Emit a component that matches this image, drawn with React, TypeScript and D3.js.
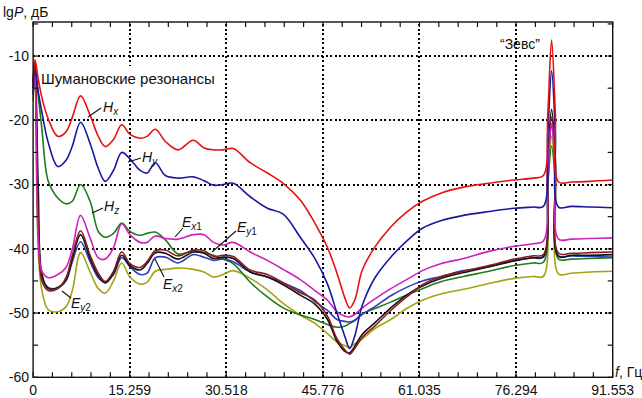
import * as d3 from 'd3'

// frequency grid, Hz
const freqs = [
  0, 0.3, 0.8, 1.4, 2.4, 3.9, 5.2, 6.2, 7.5, 9.0, 10.3, 11.4, 12.7, 14.0, 15.3, 16.9, 18.0, 19.3, 20.9, 22.9,
  25.3, 27.0, 28.5, 30.0, 31.6, 34.3, 37.0, 39.5, 42.2, 44.5, 46.5, 48.0, 49.3, 50.0, 50.8, 52.0, 54.0, 56.5,
  59.0, 61.5, 64.5, 68.0, 72.0, 76.0, 79.0, 80.6, 81.3, 81.9, 82.5, 83.0, 85.0, 88.0, 91.55,
]

const hx = [
  -14, -10.6, -13.5, -16.5, -19.8, -22.5, -21.8, -19.5, -16.2, -19.2, -22.5, -24.1, -23.0, -20.7, -22.2, -22.8,
  -22.5, -21.4, -23.3, -24.6, -23.1, -24.3, -24.6, -24.6, -24.4, -26.6, -28.2, -29.8, -32.4, -36.0, -39.8, -43.8,
  -47.8, -49.2, -48.0, -43.3, -39.7, -36.6, -34.3, -32.6, -31.3, -30.4, -29.8, -29.3, -29.0, -28.6, -19, -7.5,
  -19, -29.6, -29.6, -29.5, -29.3,
]
const hy = [
  -15, -12.2, -15.5, -18.8, -23.5, -27.2, -26.2, -24.0, -20.3, -23.6, -27.5, -29.5, -27.8, -25.0, -26.0, -27.8,
  -28.2, -26.6, -28.6, -29.0, -28.8, -29.4, -30.1, -30.0, -29.8, -31.9, -33.7, -34.6, -38.2, -41.5, -45.5, -50.0,
  -53.8, -55.5, -53.6, -48.8, -44.5, -41.3, -38.8, -36.8, -35.6, -34.8, -34.2, -33.7, -33.5, -33.4, -22, -12.3,
  -22, -33.5, -33.4, -33.5, -33.6,
]
const hz = [
  -14, -11.5, -16, -21.5, -29.5, -32.1, -33.0, -32.6, -30.0, -32.6, -37.3, -38.2, -37.6, -36.0, -37.3, -37.9,
  -37.6, -37.4, -38.6, -40.8, -40.3, -40.6, -41.0, -41.6, -42.3, -45.2, -47.5, -49.2, -50.3, -51.0, -51.8, -52.2,
  -52.0, -51.6, -51.2, -50.1, -49.3, -48.3, -47.2, -46.2, -45.1, -44.3, -43.5, -42.6, -42.2, -42.1, -30, -24,
  -30, -41.6, -41.6, -41.5, -41.4,
]
const ex1 = [
  -16, -12.5, -38, -43.5, -44.5, -44.0, -42.9, -40.0, -34.8, -38.3, -41.4, -41.6, -39.8, -36.1, -37.8, -39.0,
  -39.0, -38.0, -38.4, -38.5, -37.8, -37.8, -39.0, -39.4, -39.0, -40.5, -41.8, -43.2, -44.8, -46.5, -48.0, -49.8,
  -50.5, -50.6, -50.2, -49.2, -47.8, -46.2, -44.8, -43.4, -42.3, -41.5, -40.4, -39.6, -39.2, -38.8, -28, -20.5,
  -28, -38.5, -38.5, -38.4, -38.3,
]
const ey1 = [
  -15, -11.5, -36, -45.0, -46.5, -46.2, -44.5, -41.0, -37.2, -41.0, -43.8, -45.1, -43.5, -40.5, -42.3, -42.9,
  -42.0, -40.3, -40.2, -41.1, -40.2, -40.3, -41.2, -41.0, -41.2, -43.3, -44.0, -45.3, -46.8, -48.0, -50.5, -54.0,
  -55.8, -56.4, -55.5, -53.8, -52.0, -49.6, -47.5, -45.6, -44.3, -43.5, -42.6, -41.6, -41.1, -40.9, -27, -19.5,
  -27, -40.7, -40.7, -40.6, -40.5,
]
const eBlack = [
  -14, -10.8, -30, -44.0, -46.2, -46.0, -44.8, -41.5, -37.8, -41.5, -44.2, -45.3, -43.8, -41.0, -42.6, -43.3,
  -42.3, -40.6, -40.7, -41.6, -40.5, -40.7, -41.5, -41.3, -41.5, -43.6, -44.4, -45.6, -47.2, -48.6, -51.0, -54.4,
  -56.0, -56.2, -55.2, -53.3, -51.5, -49.2, -47.2, -45.8, -44.6, -43.7, -42.8, -41.9, -41.4, -41.2, -26, -18.3,
  -26, -41.2, -41.0, -41.0, -40.9,
]
const ex2 = [
  -16, -13, -34, -44.5, -46.0, -46.1, -45.0, -42.0, -38.9, -42.0, -44.5, -45.2, -44.0, -41.4, -42.8, -44.0,
  -43.8, -41.4, -41.3, -42.2, -40.9, -41.3, -41.8, -41.6, -42.0, -43.6, -44.4, -45.3, -46.5, -48.2, -49.6, -51.0,
  -51.3, -51.4, -51.1, -50.2, -49.0, -47.3, -46.0, -45.0, -44.3, -43.4, -42.8, -41.8, -41.4, -41.3, -27, -21,
  -27, -41.1, -41.1, -41.2, -41.3,
]
const ey2 = [
  -17, -13, -40, -46.5, -49.5, -49.8, -49.0, -46.5, -40.6, -43.6, -46.2, -46.9, -45.0, -42.2, -44.4, -45.5,
  -45.2, -43.5, -43.2, -43.0, -43.2, -43.6, -44.4, -44.0, -43.4, -44.6, -46.4, -48.5, -50.3, -51.6, -53.2, -54.5,
  -55.1, -55.3, -54.8, -54.0, -52.4, -51.0, -49.3, -48.0, -47.0, -46.3, -45.4, -44.6, -44.3, -44.3, -30, -22.5,
  -30, -43.9, -43.8, -43.6, -43.5,
]

const series = [
  { key: 'Ey2', values: ey2, color: '#a3a314' },
  { key: 'Hz', values: hz, color: '#1f7a1f' },
  { key: 'Ex2', values: ex2, color: '#3040b4' },
  { key: 'black', values: eBlack, color: '#111111' },
  { key: 'Ey1', values: ey1, color: '#8c1c1c' },
  { key: 'Ex1', values: ex1, color: '#cc22bb' },
  { key: 'Hy', values: hy, color: '#1818a0' },
  { key: 'Hx', values: hx, color: '#e51212' },
]

const xTickValues = [0, 15.259, 30.518, 45.776, 61.035, 76.294, 91.553]
const yTickValues = [-10, -20, -30, -40, -50, -60]

// curve labels: base letter, subscript letter, subscript digit, text pos, leader line
const labels = [
  { base: 'H', sub: 'x', num: '', tx: 103, ty: 112, line: [88, 117, 101, 108] },
  { base: 'H', sub: 'y', num: '', tx: 142, ty: 162, line: [128, 162, 141, 158] },
  { base: 'H', sub: 'z', num: '', tx: 104, ty: 211, line: [92, 213, 103, 208] },
  { base: 'E', sub: 'x', num: '1', tx: 182, ty: 227, line: [175, 237, 183, 228] },
  { base: 'E', sub: 'y', num: '1', tx: 237, ty: 232, line: [212, 252, 236, 231] },
  { base: 'E', sub: 'x', num: '2', tx: 163, ty: 289, line: [155, 259, 164, 277] },
  { base: 'E', sub: 'y', num: '2', tx: 71, ty: 308, line: [62, 291, 71, 298] },
]

const W = 642
const H = 398
const font = '"Liberation Sans", Arial, sans-serif'

export default function App() {
  const x = d3.scaleLinear().domain([0, 91.553]).range([33.1, 612.7])
  const y = d3.scaleLinear().domain([-60, -4.7]).range([377.3, 22])
  const [x0, x1] = x.range()
  const [y0, y1] = y.range()

  const line = d3
    .line<number>()
    .x((_, i) => x(freqs[i]))
    .y((d) => y(d))
    .curve(d3.curveCatmullRom.alpha(0.5))

  const minorX = d3.range(0, 31).map((i) => (i * 91.553) / 30)
  const minorY = d3.range(-60, -4, 5)

  return (
    <div style={{ position: 'fixed', left: 0, top: 0 }}>
      <svg width={W} height={H} fontFamily={font} style={{ display: 'block', background: '#fff' }}>
        {/* grid */}
        <g stroke="#000" strokeWidth={1.6} strokeDasharray="2,2.5" shapeRendering="crispEdges">
          {yTickValues.slice(0, 5).map((v) => (
            <line key={'gy' + v} x1={x0} x2={x1} y1={Math.round(y(v))} y2={Math.round(y(v))} />
          ))}
          {xTickValues.slice(1, 6).map((v) => (
            <line key={'gx' + v} x1={Math.round(x(v))} x2={Math.round(x(v))} y1={y0} y2={y1} />
          ))}
        </g>

        <rect x={40} y={66} width={174} height={24} fill="#fff" />
        <text x={41} y={84} fontSize={15} fill="#111">
          Шумановские резонансы
        </text>
        <text x={500} y={49} fontSize={14} fill="#111">
          “Зевс”
        </text>

        {/* curves */}
        {series.map((s) => (
          <path key={s.key} d={line(s.values) ?? ''} fill="none" stroke={s.color} strokeWidth={1.6} strokeLinejoin="round" />
        ))}

        {/* frame & ticks */}
        <rect x={x0} y={y1} width={x1 - x0} height={y0 - y1} fill="none" stroke="#111" strokeWidth={1.4} />
        {minorX.map((v, i) => (
          <g key={'tx' + i}>
            <line x1={x(v)} x2={x(v)} y1={y0} y2={y0 - 5} stroke="#111" strokeWidth={1.2} />
            <line x1={x(v)} x2={x(v)} y1={y1} y2={y1 + 5} stroke="#111" strokeWidth={1.2} />
          </g>
        ))}
        {minorY.map((v) => (
          <g key={'ty' + v}>
            <line x1={x0} x2={x0 + 5} y1={y(v)} y2={y(v)} stroke="#111" strokeWidth={1.2} />
            <line x1={x1} x2={x1 - 5} y1={y(v)} y2={y(v)} stroke="#111" strokeWidth={1.2} />
          </g>
        ))}

        {/* tick labels */}
        {yTickValues.map((v) => (
          <text key={'ly' + v} x={29} y={y(v)} dy="0.35em" fontSize={14} textAnchor="end" fill="#111">
            {v}
          </text>
        ))}
        {xTickValues.map((v) => (
          <text key={'lx' + v} x={x(v)} y={395} fontSize={14} textAnchor="middle" fill="#111">
            {v === 0 ? '0' : v.toFixed(3)}
          </text>
        ))}

        {/* axis titles */}
        <text x={3} y={17} fontSize={14} fill="#111">
          lg<tspan fontStyle="italic">P</tspan>, дБ
        </text>
        <text x={615} y={377} fontSize={14} fill="#111">
          <tspan fontStyle="italic">f</tspan>, Гц
        </text>

        {/* curve labels */}
        {labels.map((l, i) => (
          <g key={'lab' + i}>
            <line x1={l.line[0]} y1={l.line[1]} x2={l.line[2]} y2={l.line[3]} stroke="#111" strokeWidth={1.1} />
            <text x={l.tx} y={l.ty} fontSize={14} fill="#111">
              <tspan fontStyle="italic">{l.base}</tspan>
              <tspan fontSize={10} dy={3} fontStyle="italic">
                {l.sub}
              </tspan>
              {l.num && <tspan fontSize={10}>{l.num}</tspan>}
            </text>
          </g>
        ))}
      </svg>
    </div>
  )
}
